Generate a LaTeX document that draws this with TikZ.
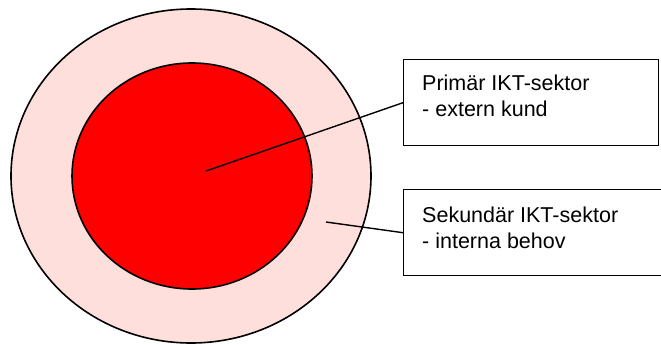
\documentclass[tikz,border=0pt]{standalone}
\usepackage{fontspec}
\setmainfont{Liberation Sans}
\definecolor{outerpink}{RGB}{255,223,219}
\definecolor{innerred}{RGB}{255,0,0}
\begin{document}
\begin{tikzpicture}[x=1pt,y=-1pt,
  ring/.style={draw=black,line width=1.6pt},
  labelbox/.style={draw=black,fill=white,line width=1.4pt,minimum width=#1,minimum height=86pt,inner sep=0pt},
  labeltext/.style={anchor=base west,align=left,inner sep=0pt,font=\fontsize{21.5}{26}\selectfont},
  leader/.style={draw=black,line width=1.4pt}]
  \useasboundingbox (0,0) rectangle (661,345);
  % concentric sectors
  \draw[ring,fill=outerpink] (191,176) ellipse [x radius=180, y radius=167];
  \draw[ring,fill=innerred] (192,176) ellipse [x radius=120, y radius=113];
  % label boxes
  \node[labelbox=255pt,anchor=north west] (primbox) at (403,59) {};
  \node[labelbox=258pt,anchor=north west] (sekbox) at (403,189) {};
  % the base anchor of a two-line node sits on its last line
  \node[labeltext] (primtext) at (422,116) {Primär IKT-sektor\\- extern kund};
  \node[labeltext] (sektext) at (422,248) {Sekundär IKT-sektor\\- interna behov};
  % leader lines
  \coordinate (primpt) at (206,171);
  \coordinate (sekpt) at (326,222);
  \draw[leader] (primpt) -- (primbox.west);
  \draw[leader] (sekpt) -- (sekbox.west);
\end{tikzpicture}
\end{document}
